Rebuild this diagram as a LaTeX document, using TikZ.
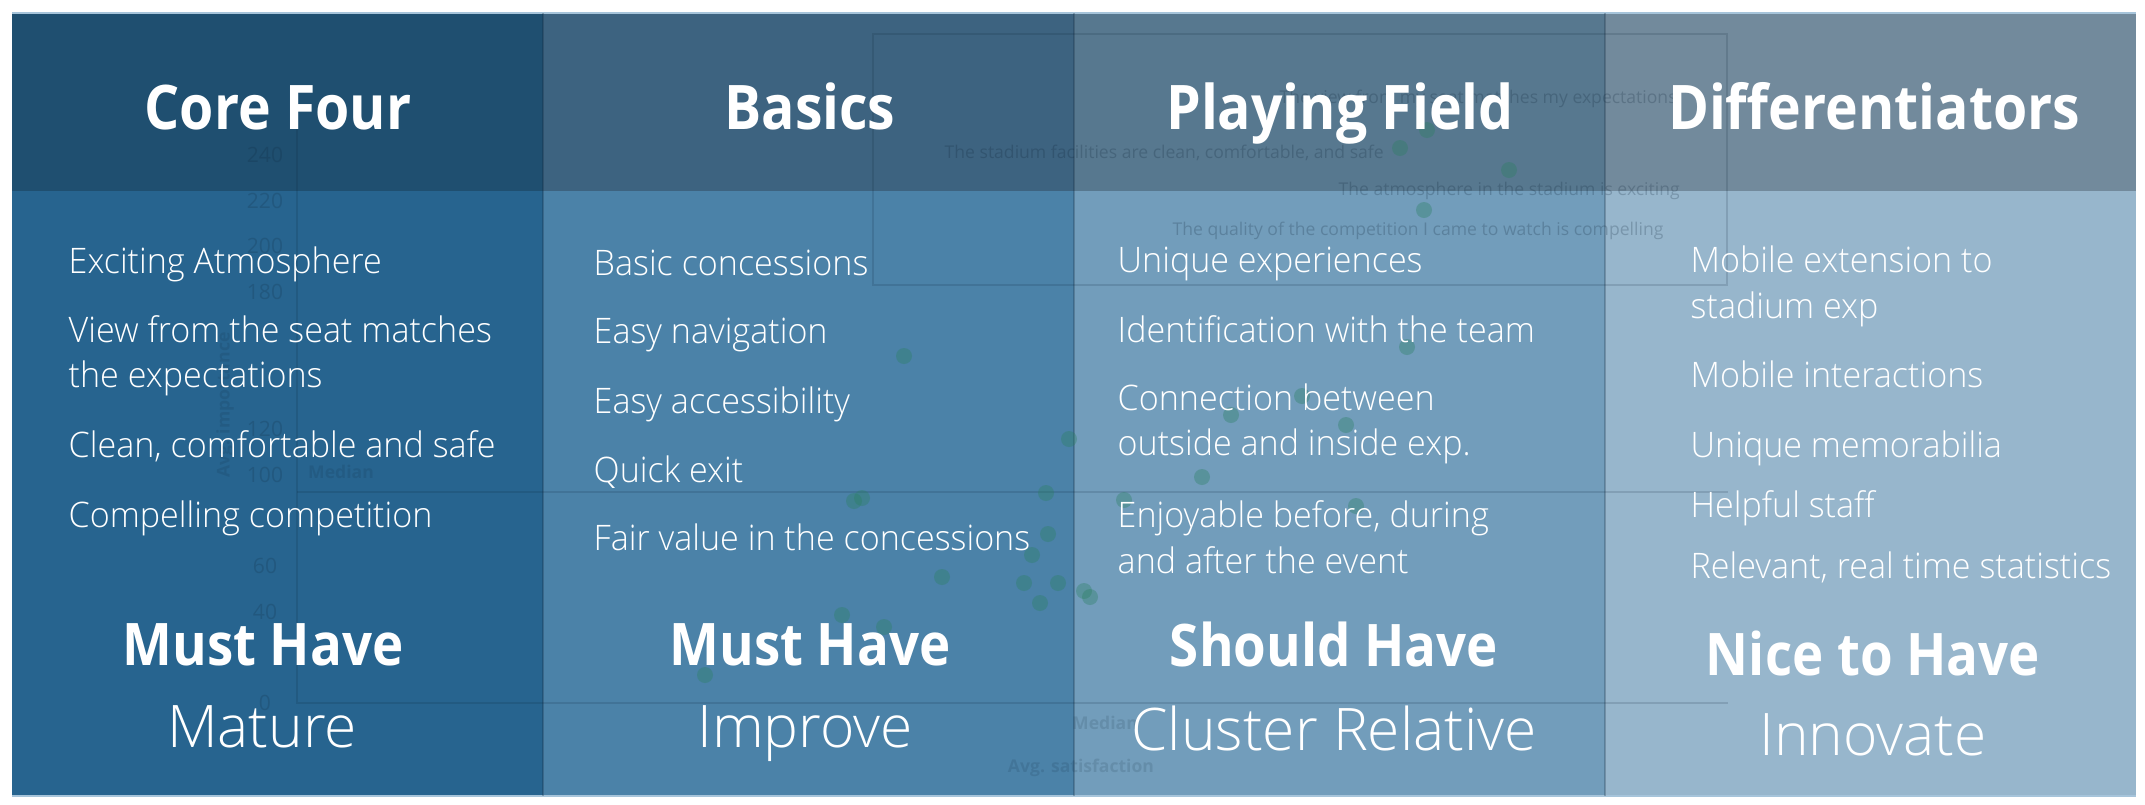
\documentclass[tikz,border=0pt]{standalone}
\usepackage{fontspec}
\newcommand\trylight[2]{\IfFontExistsTF{#1}{\newfontfamily\lt{#1}\newfontfamily\ltn{#1}[FakeStretch=0.97]}{#2}}
\trylight{Open Sans Light}{\trylight{Noto Sans Light}{\newfontfamily\lt{Open Sans}\newfontfamily\ltn{Open Sans}[FakeStretch=0.95]}}
\newfontfamily\hd{Open Sans}[FakeStretch=0.9]
\newfontfamily\ch{Open Sans}
\definecolor{h1}{HTML}{1F4F70}
\definecolor{b1}{HTML}{27648F}
\definecolor{h2}{HTML}{3D6380}
\definecolor{b2}{HTML}{4B82A8}
\definecolor{h3}{HTML}{57788F}
\definecolor{b3}{HTML}{729DBB}
\definecolor{h4}{HTML}{728A9C}
\definecolor{b4}{HTML}{97B6CC}
\definecolor{chartc}{HTML}{0C2236}
\definecolor{dotc}{HTML}{2A8060}
\definecolor{edgec}{HTML}{A6C4DA}
\tikzset{
  hdr/.style={text=white, font=\hd\bfseries\fontsize{17.5}{20}\selectfont, anchor=base, inner sep=0},
  item/.style={text=white, font=\ltn\fontsize{10}{12}\selectfont, anchor=base west, inner sep=0},
  must/.style={text=white, font=\hd\bfseries\fontsize{16.7}{20}\selectfont, anchor=base, inner sep=0},
  tagline/.style={text=white, font=\lt\fontsize{16.7}{20}\selectfont, anchor=base, inner sep=0},
  ctext/.style={text=chartc, text opacity=.22, font=\ch\fontsize{5}{6}\selectfont, inner sep=0},
  cnum/.style={text=chartc, text opacity=.18, font=\ch\fontsize{6}{7}\selectfont, inner sep=0},
  cbold/.style={text=chartc, text opacity=.13, font=\ch\bfseries\fontsize{5}{6}\selectfont, inner sep=0},
  cline/.style={draw=chartc, draw opacity=.15, line width=0.5pt},
  dotty/.style={fill=dotc, fill opacity=.35},
  sep/.style={draw=chartc, draw opacity=.25, line width=0.5pt}
}
\begin{document}
\begin{tikzpicture}[x=0.1mm,y=-0.1mm]
\useasboundingbox[fill=white] (0,0) rectangle (2145,804);
% column panels
\fill[h1] (12,13) rectangle (543,191);
\fill[b1] (12,191) rectangle (543,796);
\fill[h2] (543,13) rectangle (1074,191);
\fill[b2] (543,191) rectangle (1074,796);
\fill[h3] (1074,13) rectangle (1605,191);
\fill[b3] (1074,191) rectangle (1605,796);
\fill[h4] (1605,13) rectangle (2136,191);
\fill[b4] (1605,191) rectangle (2136,796);
\draw[edgec, line width=0.4pt] (12,13) -- (2136,13);
\draw[edgec, line width=0.4pt] (12,796) -- (2136,796);
\draw[sep] (543,13) -- (543,796);
\draw[sep] (1074,13) -- (1074,796);
\draw[sep] (1605,13) -- (1605,796);
% faint background chart
\draw[cline] (297,127) -- (297,703) -- (1728,703);
\draw[cline] (297,492) -- (1728,492);
\draw[cline, line width=0.7pt] (873,34) rectangle (1727,285);
\foreach \v/\yy [count=\i] in {240/155,220/201,200/246,180/292,120/429,100/475,60/566,40/612,0/703}
  \node[cnum] (n\i) at (265,\yy) {\v};
\node[cbold, rotate=90] (yl) at (225,405) {Avg. importance};
\node[cbold] (m1) at (341,472) {Median};
\node[cbold] (m2) at (1105,723) {Median};
\node[cbold] (xl) at (1081,768) {Avg. satisfaction};
\node[ctext, anchor=west] (l1) at (1279,99) {The view from my seat matches my expectations};
\node[ctext, anchor=west] (l2) at (944,153) {The stadium facilities are clean, comfortable, and safe};
\node[ctext, anchor=west] (l3) at (1338,191) {The atmosphere in the stadium is exciting};
\node[ctext, anchor=west] (l4) at (1172,231) {The quality of the competition I came to watch is compelling};
\foreach \px/\py in {1427/130,1400/148,1509/170,1424/210,904/356,1069/439,1046/493,854/501,862/498,1048/534,1032/555,942/577,1024/583,1058/583,1040/603,1084/591,1090/597,705/675,842/615,884/627,1407/347,1302/396,1231/415,1346/425,1202/477,1124/500,1356/506}
  \fill[dotty] (\px,\py) circle[radius=0.8mm];
% headers
\node[hdr] (t1) at (278,129) {Core Four};
\node[hdr] (t2) at (810,129) {Basics};
\node[hdr] (t3) at (1340,129) {Playing Field};
\node[hdr] (t4) at (1874,129) {Differentiators};
% column 1
\node[item] (a1) at (68,273) {Exciting Atmosphere};
\node[item] (a2) at (68,342) {View from the seat matches};
\node[item] (a2b) at (68,387) {the expectations};
\node[item] (a3) at (68,457) {Clean, comfortable and safe};
\node[item] (a4) at (68,527) {Compelling competition};
% column 2
\node[item] (b1n) at (593,275) {Basic concessions};
\node[item] (b2n) at (593,343) {Easy navigation};
\node[item] (b3n) at (593,413) {Easy accessibility};
\node[item] (b4n) at (593,482) {Quick exit};
\node[item] (b5n) at (593,550) {Fair value in the concessions};
% column 3
\node[item] (c1) at (1117,272) {Unique experiences};
\node[item] (c2) at (1117,342) {Identification with the team};
\node[item] (c3) at (1117,410) {Connection between};
\node[item] (c3b) at (1117,455) {outside and inside exp.};
\node[item] (c4) at (1117,527) {Enjoyable before, during};
\node[item] (c4b) at (1117,573) {and after the event};
% column 4
\node[item] (d1) at (1690,272) {Mobile extension to};
\node[item] (d1b) at (1690,318) {stadium exp};
\node[item] (d2) at (1690,387) {Mobile interactions};
\node[item] (d3) at (1690,457) {Unique memorabilia};
\node[item] (d4) at (1690,517) {Helpful staff};
\node[item] (d5) at (1690,578) {Relevant, real time statistics};
% bottom labels
\node[must] (p1) at (263,665) {Must Have};
\node[tagline] (q1) at (262,747) {Mature};
\node[must] (p2) at (810,665) {Must Have};
\node[tagline] (q2) at (805,747) {Improve};
\node[must] (p3) at (1334,666) {Should Have};
\node[tagline] (q3) at (1334,750) {Cluster Relative};
\node[must] (p4) at (1873,675) {Nice to Have};
\node[tagline] (q4) at (1873,755) {Innovate};
\end{tikzpicture}
\end{document}
